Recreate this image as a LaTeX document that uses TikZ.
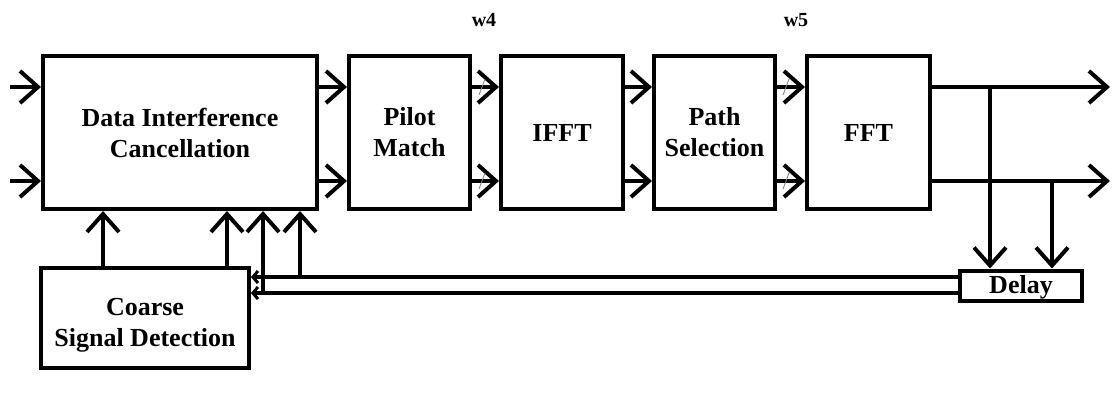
\documentclass[tikz,border=0pt]{standalone}
\usepackage{fontspec}
\setmainfont{Liberation Serif}
\usetikzlibrary{arrows.meta}
\begin{document}
\begin{tikzpicture}[x=0.5pt,y=-0.5pt,
  block/.style={draw,line width=2pt,minimum height=76.5pt,inner sep=0pt,
    align=center,font=\fontsize{13}{15.5}\selectfont\bfseries},
  thinblock/.style={draw,line width=2pt,inner sep=0pt,
    text height=7.5pt,text depth=0pt,font=\fontsize{13}{15.5}\selectfont\bfseries},
  wire/.style={line width=2pt,-{Straight Barb[length=9pt,width=16pt,line width=2pt]}},
  fbwire/.style={line width=2pt,-{Straight Barb[length=2.5pt,width=6pt,line width=1.5pt]}},
  bus/.style={line width=0.4pt,gray},
  lbl/.style={font=\fontsize{10}{12}\selectfont\bfseries}]
\useasboundingbox (0,0) rectangle (1113,392);

% processing chain
\node[block,minimum width=137pt] (dic) at (180,132.5) {Data Interference\\Cancellation};
\node[block,minimum width=60.5pt] (pm) at (409.5,132.5) {Pilot\\Match};
\node[block,minimum width=61pt] (ifft) at (562,132.5) {IFFT};
\node[block,minimum width=60.5pt] (ps) at (714.5,132.5) {Path\\Selection};
\node[block,minimum width=61.5pt] (fft) at (868.5,132.5) {FFT};
\node[block,minimum width=104pt,minimum height=50pt] (cs) at (145,318)
  {\rule{0pt}{16pt}Coarse\\Signal Detection};
\node[thinblock,minimum width=61pt,minimum height=15pt] (dl) at (1021,285.5) {Delay};

\node[lbl] (w4) at (484,20) {w4};
\node[lbl] (w5) at (796,20) {w5};

% signal rows
\coordinate (ya) at (0,87);
\coordinate (yb) at (0,181);
\coordinate (ina) at (10,87);
\coordinate (inb) at (10,181);
\coordinate (outa) at (1110,87);
\coordinate (outb) at (1110,181);
\coordinate (ba) at (990,87);
\coordinate (bb) at (1052,181);

\draw[wire] (ina) -- (dic.west |- ya);
\draw[wire] (inb) -- (dic.west |- yb);
\foreach \s/\t in {dic/pm,pm/ifft,ifft/ps,ps/fft}{
  \draw[wire] (\s.east |- ya) -- (\t.west |- ya);
  \draw[wire] (\s.east |- yb) -- (\t.west |- yb);
}
\draw[wire] (fft.east |- ya) -- (outa);
\draw[wire] (fft.east |- yb) -- (outb);

% bus marks
\foreach \x in {482,786}{
  \draw[bus] (\x-3,95) -- (\x+3,79);
  \draw[bus] (\x-3,189) -- (\x+3,173);
}

% taps into the delay line
\draw[wire] (ba) -- (ba |- dl.north);
\draw[wire] (bb) -- (bb |- dl.north);

% detection feeds the canceller
\coordinate (c1) at (103,0);
\coordinate (c2) at (227,0);
\draw[wire] (c1 |- cs.north) -- (c1 |- dic.south);
\draw[wire] (c2 |- cs.north) -- (c2 |- dic.south);

% delayed feedback
\coordinate (fa) at (0,277);
\coordinate (fb) at (0,293);
\coordinate (ja) at (300,277);
\coordinate (jb) at (263,293);
\draw[fbwire] (dl.west |- fa) -- (cs.east |- fa);
\draw[fbwire] (dl.west |- fb) -- (cs.east |- fb);
\draw[wire] (ja) -- (ja |- dic.south);
\draw[wire] (jb) -- (jb |- dic.south);
\end{tikzpicture}
\end{document}
